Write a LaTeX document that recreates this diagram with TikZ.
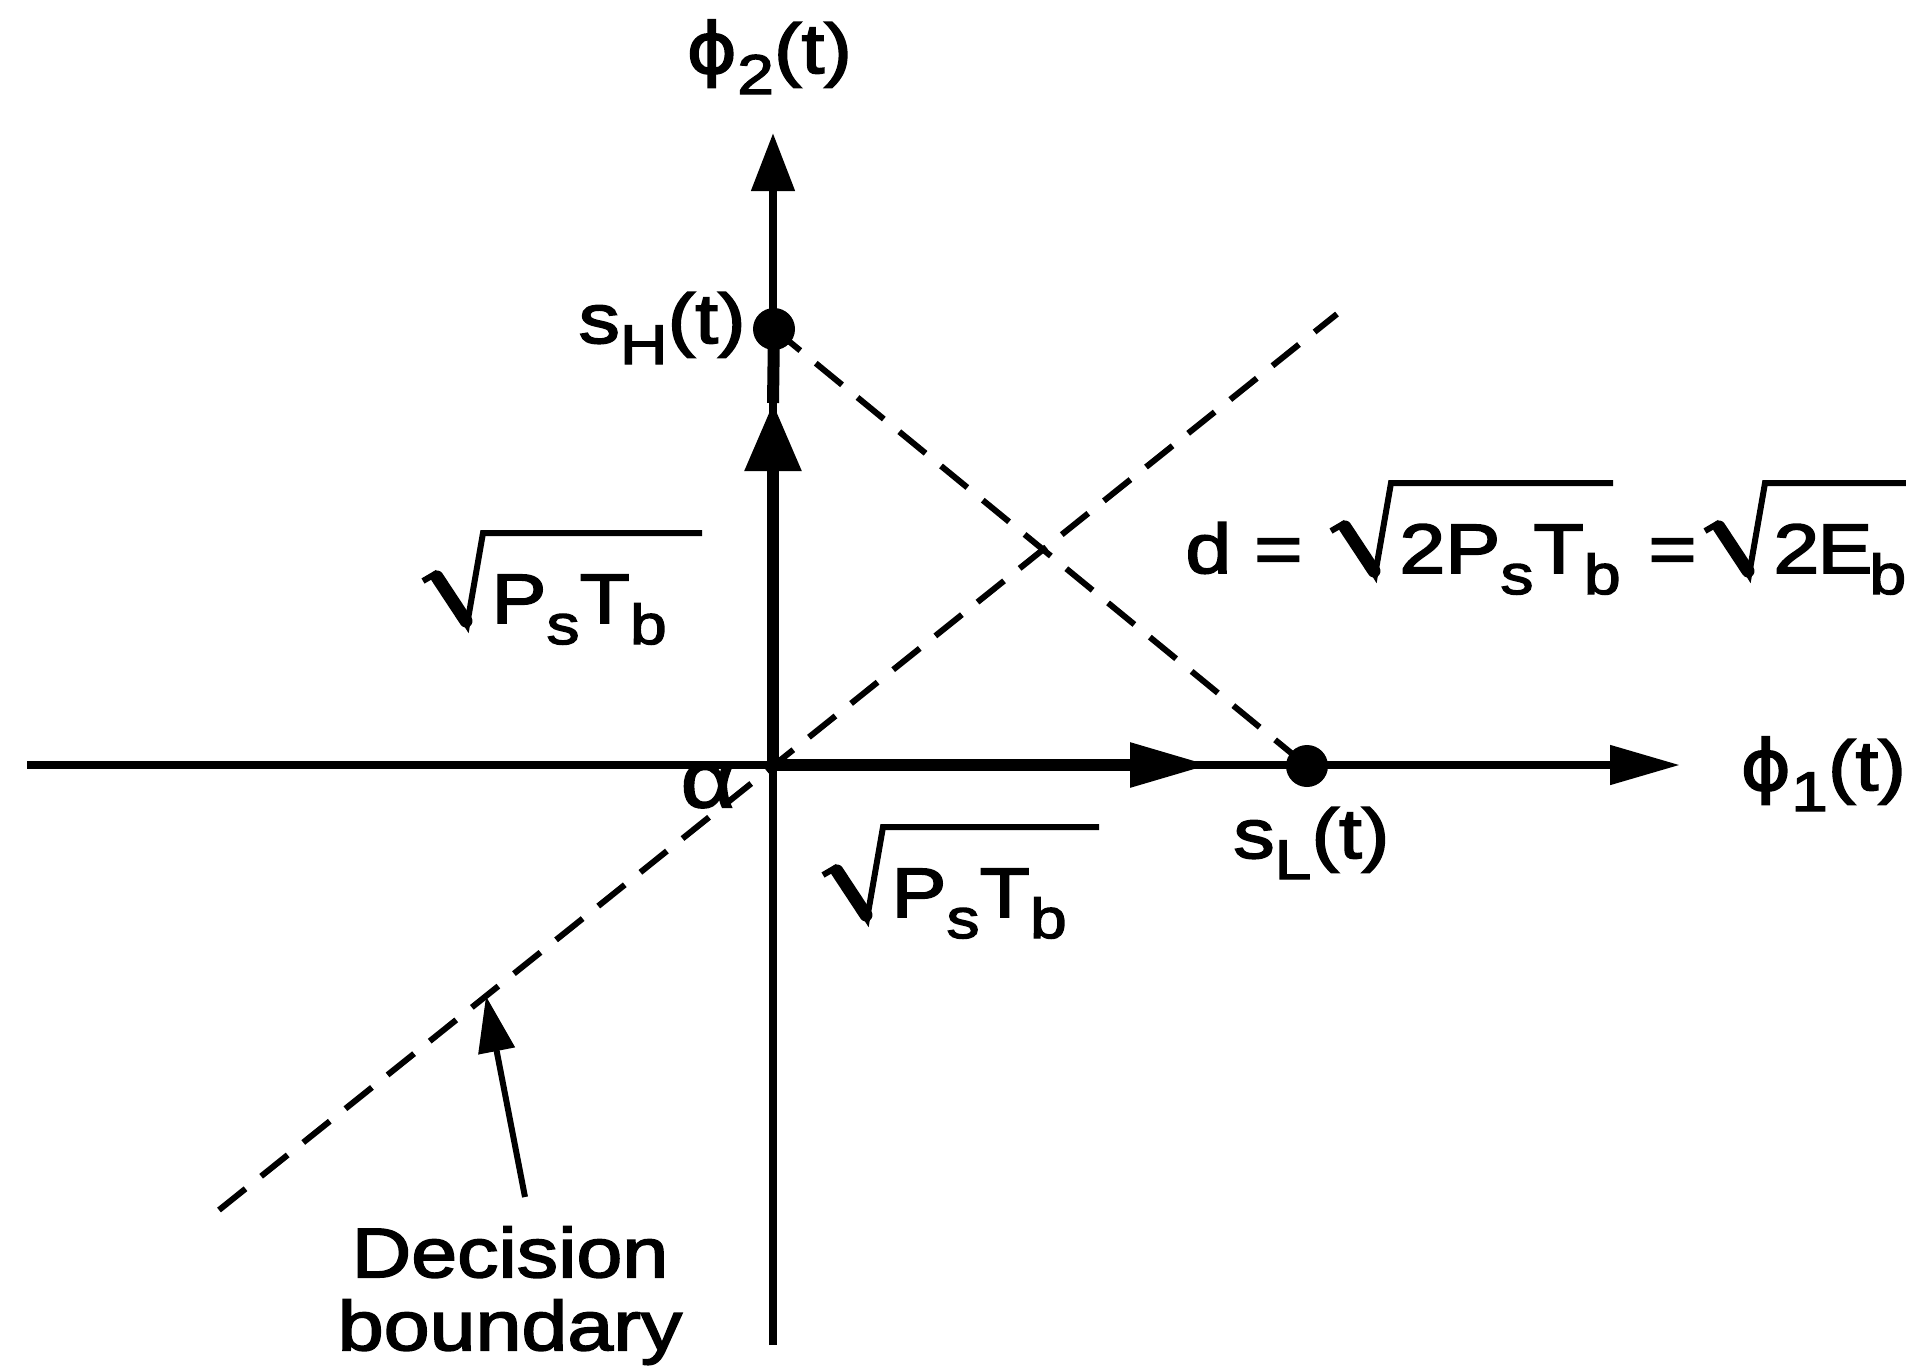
\documentclass[tikz,border=0pt]{standalone}
\usepackage{fontspec}
\setmainfont{Liberation Sans}[FakeStretch=1.18,FakeBold=2.5]
\newfontfamily\phifont{DejaVu Sans}[FakeStretch=1.1,FakeBold=2.5]
\usetikzlibrary{arrows.meta}
\newcommand\sub[1]{\raisebox{-10.5pt}{\fontsize{28}{30}\selectfont #1}}
\begin{document}
\begin{tikzpicture}[x=0.5pt,y=-0.5pt,
  axis/.style={line width=4pt},
  vec/.style={line width=6pt},
  dashline/.style={line width=3pt, dash pattern=on 17pt off 10pt},
  lbl/.style={inner sep=0pt, font=\fontsize{35}{36.5}\selectfont},
  radthin/.style={line width=3pt, line join=miter},
  radthick/.style={line width=6.5pt, line cap=round},
  dot/.style={circle, fill=black, inner sep=0pt, minimum size=21pt}]
\newcommand\myrad[2]{%
  \draw[radthin] ([shift={(-68,-42)}]#1.base west) -- ([shift={(-56,-49)}]#1.base west)
     -- ([shift={(-24,2)}]#1.base west) -- ([shift={(-8,-90)}]#1.base west)
     -- ([shift={(#2,-90)}]#1.base east);
  \draw[radthick] ([shift={(-54,-46)}]#1.base west) -- ([shift={(-25,-2)}]#1.base west);}
\useasboundingbox (0,0) rectangle (1906,1371);
\coordinate (O) at (773,765);
\node[dot] (sH) at (774,329) {};
\node[dot] (sL) at (1307,766) {};
\coordinate (xl) at (27,765);
\coordinate (xr) at (1680,765);
\coordinate (yb) at (773,1345);
\coordinate (yt) at (773,133);
\coordinate (vh) at (773,403);
\coordinate (vl) at (1210,765);
\coordinate (db1) at (219,1210);
\coordinate (db2) at (1337,314);
\coordinate (dbp) at (486,996);
% axes
\draw[axis, -{Triangle[length=35pt,width=19pt]}] (xl) -- (xr);
\draw[axis, -{Triangle[length=29pt,width=21pt]}] (yb) -- (yt);
% signal vectors
\draw[vec, -{Triangle[length=34pt,width=27pt]}] (O) -- (vh);
\draw[vec] (vh) -- (sH.center);
\draw[vec, -{Triangle[length=40pt,width=21pt]}] (O) -- (vl);
% dashed lines
\draw[dashline] (sH.center) -- (sL.center);
\draw[dashline] (db1) -- (db2);
% axis and point labels
\node[lbl, anchor=base west] (phi2) at (686,73) {{\phifont ϕ}\sub{2}(t)};
\node[lbl, anchor=base west] (phi1) at (1740,790) {{\phifont ϕ}\sub{1}(t)};
\node[lbl, anchor=base east] (sHl) at (746,343) {s\sub{H}(t)};
\node[lbl, anchor=base west] (sLl) at (1233,858) {s\sub{L}(t)};
% square-root labels
\node[lbl, anchor=base west] (r1) at (491,623) {P\sub{s}T\sub{b}};
\myrad{r1}{35}
\node[lbl, anchor=base west] (r2) at (891,917) {P\sub{s}T\sub{b}};
\myrad{r2}{32}
\node[lbl, anchor=base west] (dd) at (1185,573) {d =};
\node[lbl, anchor=base west] (r3) at (1399,573) {2P\sub{s}T\sub{b}};
\myrad{r3}{-8}
\node[lbl, anchor=base west] (eq2) at (1648,573) {=};
\node[lbl, anchor=base west] (r4) at (1773,573) {2\kern-1pt E\kern-1.5pt\sub{b}};
\myrad{r4}{60}
\node[lbl, font=\fontsize{40}{40}\selectfont] (al) at (708,786) {α};
% decision boundary label
\node[lbl, align=center, anchor=north] (dec) at (510,1226) {Decision\\boundary};
\draw[line width=3pt, -{Triangle[length=28pt,width=18pt]}] ([shift={(15,-29)}]dec.north) -- (dbp);
\end{tikzpicture}
\end{document}
